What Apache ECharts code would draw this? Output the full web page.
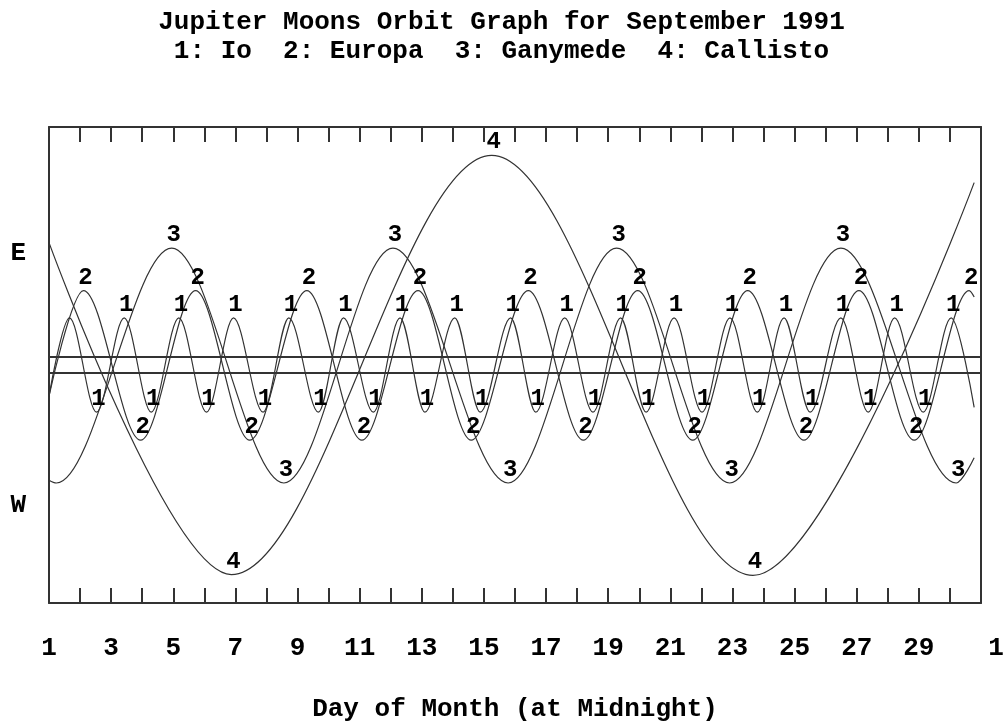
<!DOCTYPE html>
<html><head><meta charset="utf-8">
<script src="https://cdn.jsdelivr.net/npm/echarts@6/dist/echarts.min.js"></script>
<style>html,body{margin:0;padding:0;background:#fff}#c{width:1003px;height:723px}</style>
</head><body><div id="c"></div>
<script>
// Day of month (x) and east(+)/west(-) offset in Jupiter radii (y), read at each extreme
const ioDays = [1.00, 1.66, 2.53, 3.42, 4.29, 5.18, 6.07, 6.94, 7.89, 8.72, 9.67, 10.48, 11.44, 12.30, 13.10, 14.06, 14.88, 15.86, 16.67, 17.60, 18.51, 19.40, 20.22, 21.12, 22.02, 22.92, 23.80, 24.66, 25.50, 26.49, 27.37, 28.22, 29.14, 30.04, 30.78];
const ioVals = [-3.9, 5.9, -5.9, 5.9, -5.9, 5.9, -5.9, 5.9, -5.9, 5.9, -5.9, 5.9, -5.9, 5.9, -5.9, 5.9, -5.9, 5.9, -5.9, 5.9, -5.9, 5.9, -5.9, 5.9, -5.9, 5.9, -5.9, 5.9, -5.9, 5.9, -5.9, 5.9, -5.9, 5.9, -5.3];
const europaDays = [1.00, 2.11, 3.95, 5.72, 7.46, 9.30, 11.07, 12.88, 14.59, 16.43, 18.20, 19.95, 21.72, 23.49, 25.30, 27.07, 28.85, 30.62, 30.78];
const europaVals = [-3.9, 9.3, -9.4, 9.3, -9.4, 9.3, -9.4, 9.3, -9.4, 9.3, -9.4, 9.3, -9.4, 9.3, -9.4, 9.3, -9.4, 9.3, 8.5];
const ganymedeDays = [1.00, 1.24, 4.95, 8.56, 12.07, 15.78, 19.27, 22.91, 26.49, 30.20, 30.78];
const ganymedeVals = [-14.4, -14.75, 14.6, -14.75, 14.6, -14.75, 14.6, -14.75, 14.6, -14.75, -11.6];
const callistoDays = [1.00, 6.87, 15.25, 23.66, 30.78];
const callistoVals = [15.3, -26.2, 26.2, -26.3, 22.8];
const moonNames = ['1', '2', '3', '4'];

const xLabelDays = [1, 3, 5, 7, 9, 11, 13, 15, 17, 19, 21, 23, 25, 27, 29, 31];
const xLabelText = ['1', '3', '5', '7', '9', '11', '13', '15', '17', '19', '21', '23', '25', '27', '29', '1'];
const tickDays = [2, 3, 4, 5, 6, 7, 8, 9, 10, 11, 12, 13, 14, 15, 16, 17, 18, 19, 20, 21, 22, 23, 24, 25, 26, 27, 28, 29, 30];
const sideValues = [13.9, -17.6];
const sideText = ['E', 'W'];
const diskEdges = [1, -1];

const FONT = "'Liberation Mono', 'DejaVu Sans Mono', monospace";
const INK = '#333';

function moonSeries(name, days, vals) {
  const last = days.length - 1;
  return {
    type: 'line', name: name,
    smooth: 0.3333, smoothMonotone: 'x',
    symbol: 'circle', symbolSize: 0, showSymbol: true,
    lineStyle: { color: INK, width: 1.2 },
    itemStyle: { color: INK },
    label: { show: false },
    animation: false,
    data: days.map((d, i) => ({
      value: [d, vals[i]],
      label: {
        show: i > 0 && i < last && d >= 1.9,
        formatter: name, position: 'top', distance: 1, offset: [2, 0],
        fontFamily: FONT, fontWeight: 'bold', fontSize: 24, color: '#000'
      }
    }))
  };
}

const series = [
  moonSeries(moonNames[0], ioDays, ioVals),
  moonSeries(moonNames[1], europaDays, europaVals),
  moonSeries(moonNames[2], ganymedeDays, ganymedeVals),
  moonSeries(moonNames[3], callistoDays, callistoVals)
];
series[3].markLine = {
  silent: true, symbol: ['none', 'none'], animation: false,
  label: { show: false },
  lineStyle: { color: INK, width: 2, type: 'solid' },
  data: diskEdges.map(v => ({ yAxis: v }))
};

const chart = echarts.init(document.getElementById('c'), null, { renderer: 'canvas' });
chart.setOption({
  backgroundColor: '#fff',
  animation: false,
  title: {
    text: 'Jupiter Moons Orbit Graph for September 1991\n1: Io  2: Europa  3: Ganymede  4: Callisto',
    left: 'center', top: 8, padding: 0,
    textStyle: { fontFamily: FONT, fontWeight: 'bold', fontSize: 26, lineHeight: 29, color: '#000' }
  },
  grid: { left: 49, right: 22, top: 127, bottom: 120, containLabel: false, outerBoundsMode: 'none' },
  xAxis: [{
    type: 'value', position: 'bottom', min: 1, max: 31,
    name: 'Day of Month (at Midnight)', nameLocation: 'middle', nameGap: 93,
    nameTextStyle: { fontFamily: FONT, fontWeight: 'bold', fontSize: 26, color: '#000' },
    axisLine: { show: true, onZero: false, lineStyle: { color: INK, width: 2 } },
    axisTick: { show: true, inside: true, length: 15, customValues: tickDays, lineStyle: { color: INK, width: 2 } },
    axisLabel: {
      show: true, margin: 32, customValues: xLabelDays,
      showMinLabel: true, showMaxLabel: true,
      fontFamily: FONT, fontWeight: 'bold', fontSize: 26, color: '#000',
      formatter: v => {
        const i = xLabelDays.indexOf(Math.round(v));
        const t = i >= 0 ? xLabelText[i] : '';
        return Math.round(v) === 31 ? '{r|' + t + '}' : t;
      },
      rich: { r: { fontFamily: FONT, fontWeight: 'bold', fontSize: 26, color: '#000', padding: [0, 0, 0, 30] } }
    },
    splitLine: { show: false }
  }, {
    type: 'value', position: 'top', min: 1, max: 31,
    axisLine: { show: true, onZero: false, lineStyle: { color: INK, width: 2 } },
    axisTick: { show: true, inside: true, length: 15, customValues: tickDays, lineStyle: { color: INK, width: 2 } },
    axisLabel: { show: false },
    splitLine: { show: false }
  }],
  yAxis: [{
    type: 'value', position: 'left', min: -29.75, max: 29.75,
    axisLine: { show: true, onZero: false, lineStyle: { color: INK, width: 2 } },
    axisTick: { show: false },
    axisLabel: {
      show: true, margin: 23, customValues: sideValues,
      fontFamily: FONT, fontWeight: 'bold', fontSize: 26, color: '#000',
      formatter: v => (v > 0 ? sideText[0] : sideText[1])
    },
    splitLine: { show: false }
  }, {
    type: 'value', position: 'right', min: -29.75, max: 29.75,
    axisLine: { show: true, onZero: false, lineStyle: { color: INK, width: 2 } },
    axisTick: { show: false }, axisLabel: { show: false }, splitLine: { show: false }
  }],
  series: series
});
</script>
</body></html>
